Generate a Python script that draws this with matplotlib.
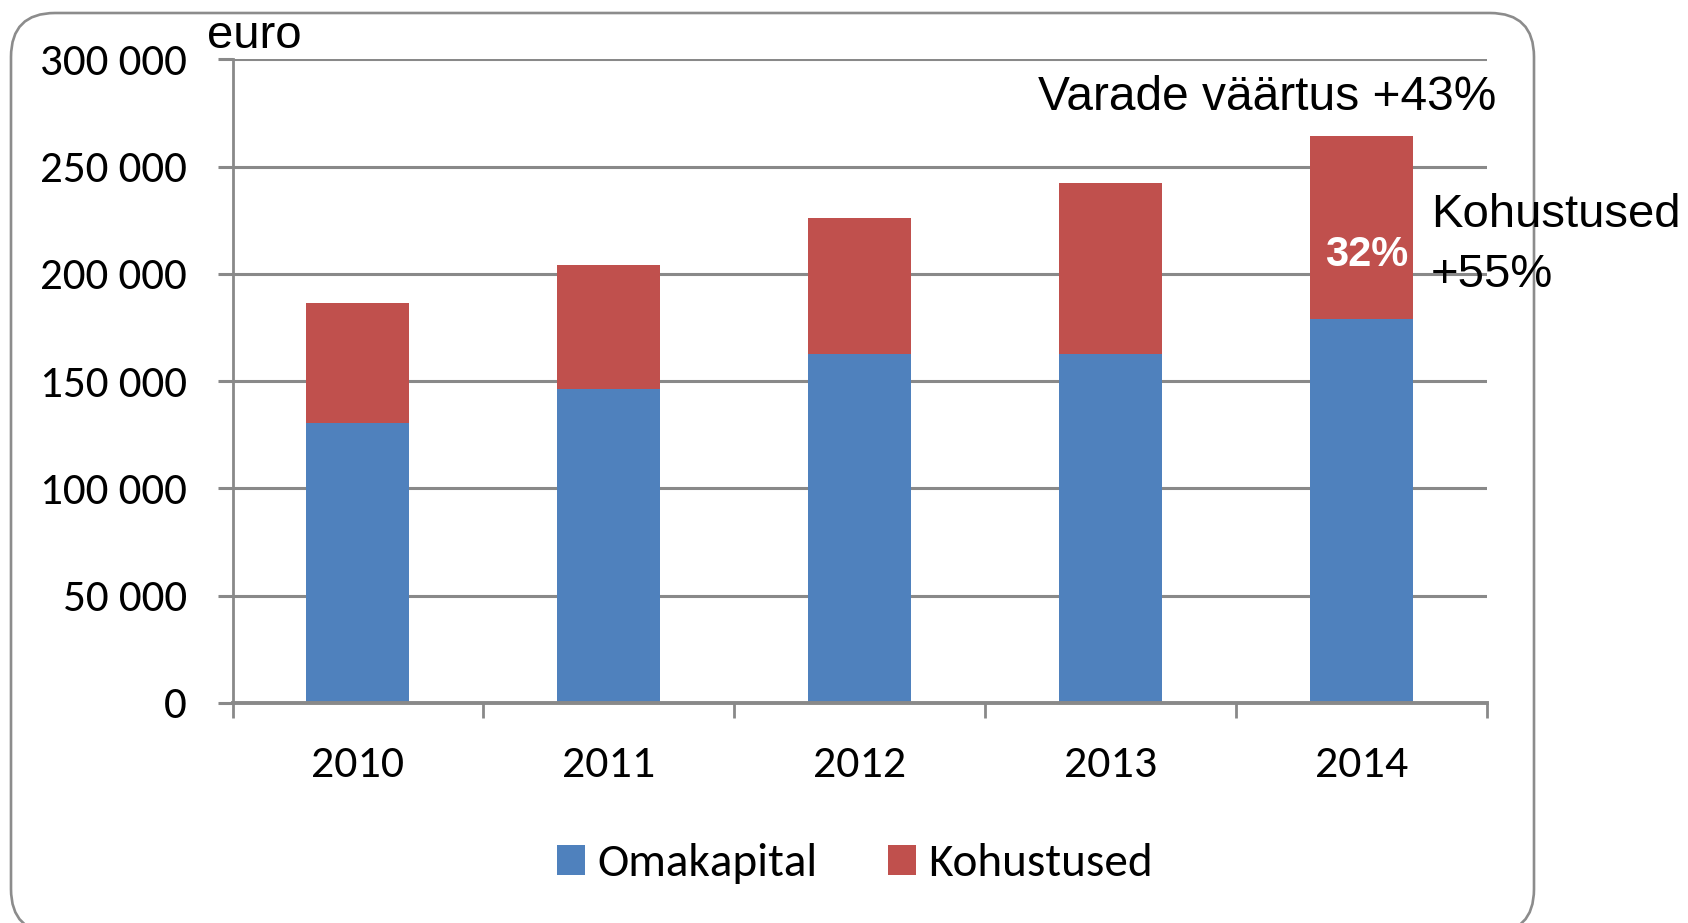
import matplotlib.pyplot as plt
from matplotlib.patches import FancyBboxPatch
from matplotlib.transforms import IdentityTransform
import numpy as np

years = ['2010', '2011', '2012', '2013', '2014']
omakapital = [130300, 146500, 162700, 162700, 179000]
kohustused = [55900, 57500, 63300, 79700, 85400]
yticks = [0, 50000, 100000, 150000, 200000, 250000, 300000]
ytick_labels = ['0', '50 000', '100 000', '150 000', '200 000', '250 000', '300 000']

blue = '#4F81BD'
red = '#C0504D'
grey = '#898989'
W, H = 1688, 923

fig = plt.figure(figsize=(W / 100, H / 100), dpi=100)

# rounded frame (pixel coords, origin bottom-left)
frame = FancyBboxPatch((11, -10), 1523, H - 13 + 10,
                       boxstyle='round,pad=0,rounding_size=44',
                       transform=IdentityTransform(), fill=False,
                       edgecolor='#8C8C8C', linewidth=1.9)
fig.patches.append(frame)

ax = fig.add_axes([232.5 / W, 1 - 703 / H, (1486.6 - 232.5) / W, (703 - 59.2) / H])
x = np.arange(len(years))
ax.bar(x, omakapital, width=0.41, color=blue, label='Omakapital', zorder=3)
ax.bar(x, kohustused, width=0.41, bottom=omakapital, color=red, label='Kohustused', zorder=3)

ax.set_xlim(-0.5, len(years) - 0.5)
ax.set_ylim(0, 300000)
ax.set_yticks(yticks)
ax.set_yticklabels(ytick_labels, family='Carlito', fontsize=32.5)
ax.set_xticks(x)
ax.set_xticklabels(years, family='Carlito', fontsize=33)
ax.tick_params(axis='x', length=0, pad=31)
ax.set_xticks(np.arange(-0.5, len(years)), minor=True)
ax.tick_params(axis='x', which='minor', length=11, width=2, color=grey, direction='out')
ax.tick_params(axis='y', length=11, width=2.2, color=grey, pad=22)

ax.grid(axis='y', color=grey, linewidth=2.2, zorder=0)
for s in ['top', 'right']:
    ax.spines[s].set_visible(False)
ax.spines['left'].set_color(grey)
ax.spines['left'].set_linewidth(2)
ax.spines['bottom'].set_color(grey)
ax.spines['bottom'].set_linewidth(2.8)
ax.spines['bottom'].set_zorder(4)

fig.text(207 / W, 1 - 48 / H, 'euro', family='Liberation Sans', fontsize=34, va='baseline', ha='left')
fig.text(1496 / W, 1 - 110 / H, 'Varade väärtus +43%', family='Liberation Sans', fontsize=34.5,
         va='baseline', ha='right')
fig.text(1431 / W, 1 - 227 / H, 'Kohustused', family='Liberation Sans', fontsize=34, va='baseline', ha='left')
fig.text(1431 / W, 1 - 287 / H, '+55%', family='Liberation Sans', fontsize=34, va='baseline', ha='left')
ax.text(x[-1] + 0.02, omakapital[-1] + kohustused[-1] * 0.35, '32%', color='white', fontweight='bold',
        family='Liberation Sans', fontsize=30, ha='center', va='center', zorder=5)

fig.legend(loc='center', bbox_to_anchor=(855 / W, 1 - 864 / H), ncol=2, frameon=False,
           prop={'family': 'Carlito', 'size': 34}, handlelength=0.6, handleheight=0.6,
           handletextpad=0.25, columnspacing=1.5)

fig.savefig('out.png', dpi=100)
